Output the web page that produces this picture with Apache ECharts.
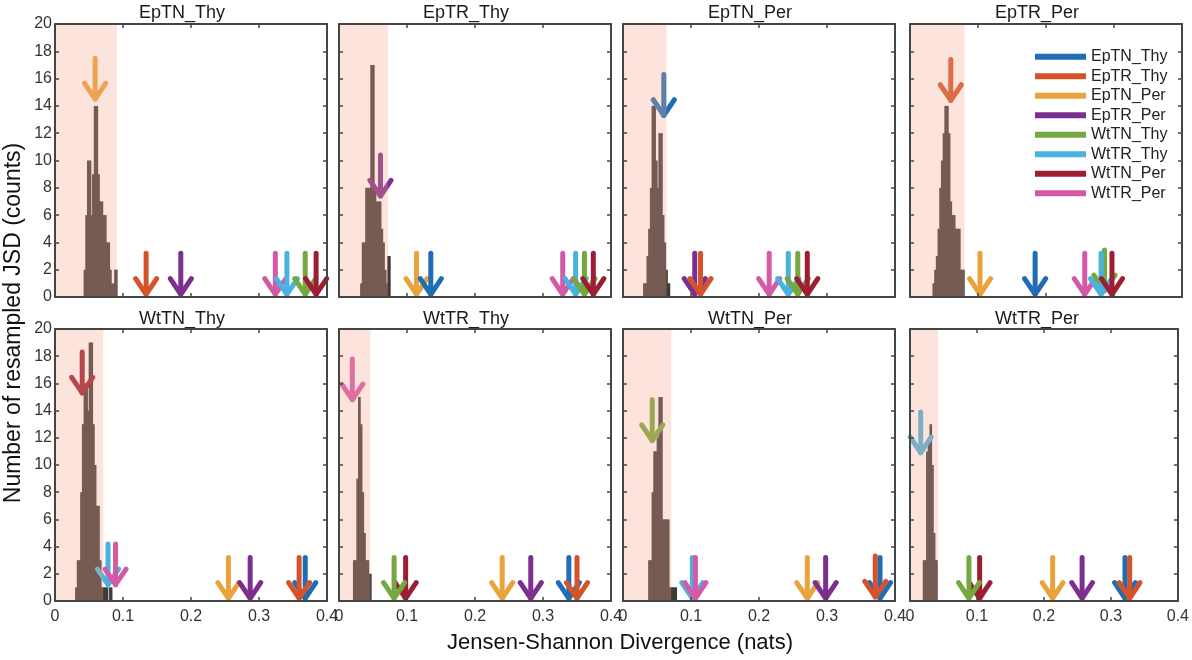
<!DOCTYPE html>
<html>
<head>
<meta charset="utf-8">
<script src="https://cdn.jsdelivr.net/npm/echarts/dist/echarts.min.js"></script>
<style>
html,body{margin:0;padding:0;background:#ffffff;}
#chart{width:1192px;height:660px;}
</style>
</head>
<body>
<div id="chart"></div>
<script>
// ---------------- data ----------------
const conditions = ['EpTN_Thy','EpTR_Thy','EpTN_Per','EpTR_Per','WtTN_Thy','WtTR_Thy','WtTN_Per','WtTR_Per'];
const conditionColors = ['#1f6db5','#d5532a','#e8a33d','#7b2f8e','#75a83e','#48b3e0','#9d1e33','#d35aa6'];
const panelTitles = ['EpTN_Thy','EpTR_Thy','EpTN_Per','EpTR_Per','WtTN_Thy','WtTR_Thy','WtTN_Per','WtTR_Per'];

const xMin = 0, xMax = 0.4, xStep = 0.1;
const yMin = 0, yMax = 20, yStep = 2;

// histogram of resampled JSD: first bin edge, bin width, counts
const binWidth = 0.0025;
const histStart = [0.042, 0.031, 0.0295, 0.033, 0.0295, 0.0205, 0.037, 0.019];
const hist1 = [2,6,10,10,6,9,14,14,9,7,7,6,6,4,4,2,1,1,2,2];
const hist2 = [1,4,4,8,8,8,17,17,8,7,7,7,5,4,2,1,3,3];
const hist3 = [1,1,3,5,8,14,14,10,8,12,12,6,4,2,1,1];
const hist4 = [1,2,3,5,8,10,12,14,14,12,7,6,6,5,5,5,2,2,2];
const hist5 = [1,3,3,8,13,16,16,14,19,19,13,10,7,7,3,1,1,1,1,0,1,1];
const hist6 = [3,3,9,15,13,8,5,3,3,2,2];
const hist7 = [3,3,8,11,11,12,15,15,6,6,6,6,1,1,1,1,1];
const hist8 = [3,3,11,12,13,10,5,3,3];
const histograms = [hist1, hist2, hist3, hist4, hist5, hist6, hist7, hist8];

// upper limit of the null (shaded) region per panel
const nullLimits = [0.091, 0.072, 0.064, 0.080, 0.071, 0.046, 0.071, 0.042];

// arrows: [condition index, JSD value, arrow tip height]
const arrows1 = [[2,0.059,14.5],[1,0.134,0.2],[3,0.185,0.2],[7,0.324,0.2],[5,0.341,0.2],[4,0.368,0.2],[6,0.384,0.2]];
const arrows2 = [[3,0.061,7.4],[2,0.114,0.2],[0,0.135,0.2],[7,0.329,0.2],[5,0.348,0.2],[4,0.361,0.2],[6,0.374,0.2]];
const arrows3 = [[0,0.060,13.3],[3,0.1055,0.2],[1,0.114,0.2],[7,0.215,0.2],[5,0.243,0.2],[4,0.257,0.2],[6,0.271,0.2]];
const arrows4 = [[1,0.060,14.4],[2,0.103,0.2],[0,0.184,0.2],[7,0.257,0.2],[4,0.286,0.45],[5,0.281,0.2],[6,0.297,0.2]];
const arrows5 = [[6,0.040,15.3],[5,0.078,1.2],[7,0.089,1.2],[2,0.255,0.2],[3,0.287,0.2],[0,0.368,0.2],[1,0.359,0.2]];
const arrows6 = [[7,0.0196,14.8],[6,0.098,0.2],[4,0.081,0.2],[2,0.240,0.2],[3,0.282,0.2],[0,0.338,0.2],[1,0.350,0.2]];
const arrows7 = [[4,0.043,11.8],[5,0.102,0.2],[7,0.1065,0.2],[2,0.271,0.2],[3,0.298,0.2],[0,0.378,0.2],[1,0.371,0.3]];
const arrows8 = [[5,0.016,10.9],[6,0.104,0.2],[4,0.088,0.2],[2,0.213,0.2],[3,0.257,0.2],[0,0.321,0.2],[1,0.328,0.2]];
const arrowSets = [arrows1, arrows2, arrows3, arrows4, arrows5, arrows6, arrows7, arrows8];

const xAxisTitle = 'Jensen-Shannon Divergence (nats)';
const yAxisTitle = 'Number of resampled JSD (counts)';

// ---------------- layout & style ----------------
const FONT = "'Liberation Sans', Arial, Helvetica, sans-serif";
const gridLefts = [55, 339, 623, 910];
const gridTops = [24, 329];
const gridHeights = [273, 272];
const gridWidth = 272;
const frameColor = '#454545';
const arrowShaft = 3.0, arrowHeadH = 1.15, arrowHeadHalfW = 0.0155, arrowLineW = 5;

const chart = echarts.init(document.getElementById('chart'), null, {renderer: 'canvas'});

const grids = [], xAxes = [], yAxes = [], series = [], graphics = [];

function axisCommon() {
  return {
    axisLine: {show: true, onZero: false, lineStyle: {color: frameColor, width: 2}},
    axisTick: {show: true, inside: true, length: 4, lineStyle: {color: frameColor, width: 1.5}},
    splitLine: {show: false},
    z: 10
  };
}

function renderBar(params, api) {
  const p0 = api.coord([api.value(0), 0]);
  const p1 = api.coord([api.value(1), api.value(2)]);
  const isLast = params.dataIndex === params.dataInsideLength - 1;
  return {
    type: 'rect',
    shape: {x: p0[0], y: p1[1], width: p1[0] - p0[0] + (isLast ? 0 : 1.0), height: p0[1] - p1[1]},
    style: {fill: '#3e3b3b'}
  };
}

function renderArrow(params, api) {
  const x = api.value(0), y = api.value(1);
  const tip = api.coord([x, y]);
  const top = api.coord([x, y + arrowShaft]);
  const l = api.coord([x - arrowHeadHalfW, y + arrowHeadH]);
  const r = api.coord([x + arrowHeadHalfW, y + arrowHeadH]);
  const color = api.visual('color');
  return {
    type: 'group',
    children: [
      {type: 'line', shape: {x1: tip[0], y1: tip[1], x2: top[0], y2: top[1]},
       style: {stroke: color, lineWidth: arrowLineW, lineCap: 'round'}},
      {type: 'polyline', shape: {points: [l, tip, r]},
       style: {stroke: color, fill: null, lineWidth: arrowLineW, lineCap: 'round', lineJoin: 'round'}}
    ]
  };
}

function renderNull(params, api) {
  const cs = params.coordSys;
  const p = api.coord([api.value(0), 0]);
  return {
    type: 'rect',
    shape: {x: cs.x, y: cs.y, width: p[0] - cs.x, height: cs.height},
    style: {fill: 'rgba(246,165,140,0.30)'}
  };
}

for (let i = 0; i < 8; i++) {
  const row = i < 4 ? 0 : 1, col = i % 4;
  grids.push({left: gridLefts[col], top: gridTops[row], width: gridWidth, height: gridHeights[row], containLabel: false});

  xAxes.push(Object.assign({
    gridIndex: i, type: 'value', min: xMin, max: xMax, interval: xStep, position: 'bottom',
    axisLabel: {show: row === 1, margin: 8, fontSize: 16, color: '#333', fontFamily: FONT, showMinLabel: true, showMaxLabel: true}
  }, axisCommon()));
  xAxes.push(Object.assign({
    gridIndex: i, type: 'value', min: xMin, max: xMax, interval: xStep, position: 'top',
    axisLabel: {show: false}
  }, axisCommon()));
  yAxes.push(Object.assign({
    gridIndex: i, type: 'value', min: yMin, max: yMax, interval: yStep, position: 'left',
    axisLabel: {show: col === 0, margin: 3, fontSize: 16, color: '#333', fontFamily: FONT, showMinLabel: true, showMaxLabel: true}
  }, axisCommon()));
  yAxes.push(Object.assign({
    gridIndex: i, type: 'value', min: yMin, max: yMax, interval: yStep, position: 'right',
    axisLabel: {show: false}
  }, axisCommon()));

  const xi = i * 2, yi = i * 2;
  // histogram
  const h = histograms[i];
  const barData = h.map((c, k) => [histStart[i] + k * binWidth, histStart[i] + (k + 1) * binWidth, c]);
  series.push({
    type: 'custom', name: 'hist' + i, xAxisIndex: xi, yAxisIndex: yi,
    renderItem: renderBar, data: barData, encode: {x: [0, 1], y: 2}, z: 2, silent: true
  });
  // arrows
  arrowSets[i].forEach(a => {
    series.push({
      type: 'custom', name: conditions[a[0]], xAxisIndex: xi, yAxisIndex: yi,
      itemStyle: {color: conditionColors[a[0]]},
      renderItem: renderArrow, data: [[a[1], a[2]]], encode: {x: 0, y: 1}, z: 3, silent: true
    });
  });
  // null region overlay
  series.push({
    type: 'custom', name: 'null' + i, xAxisIndex: xi, yAxisIndex: yi,
    renderItem: renderNull, data: [[nullLimits[i], 0]], encode: {x: 0, y: 1}, z: 4, silent: true
  });

  graphics.push({
    type: 'text', x: gridLefts[col] + gridWidth / 2 - 9, y: row === 0 ? 13 : 319,
    style: {text: panelTitles[i], fontSize: 18, fontFamily: FONT, fill: '#1a1a1a', align: 'center', verticalAlign: 'middle'}
  });
}

graphics.push({
  type: 'text', x: 620, y: 643,
  style: {text: xAxisTitle, fontSize: 22, fontFamily: FONT, fill: '#111', align: 'center', verticalAlign: 'middle'}
});
graphics.push({
  type: 'text', x: 14, y: 323, rotation: Math.PI / 2,
  style: {text: yAxisTitle, fontSize: 23, fontFamily: FONT, fill: '#111', align: 'center', verticalAlign: 'middle'}
});

chart.setOption({
  animation: false,
  backgroundColor: '#ffffff',
  grid: grids,
  xAxis: xAxes,
  yAxis: yAxes,
  series: series,
  legend: {
    data: conditions.map((n, k) => ({name: n, icon: 'rect', itemStyle: {color: conditionColors[k]}})),
    orient: 'vertical', left: 1035, top: 48.7, padding: 0,
    itemWidth: 51, itemHeight: 6, itemGap: 3.5,
    textStyle: {fontSize: 16, color: '#222', fontFamily: FONT},
    selectedMode: false
  },
  graphic: graphics
});
</script>
</body>
</html>
